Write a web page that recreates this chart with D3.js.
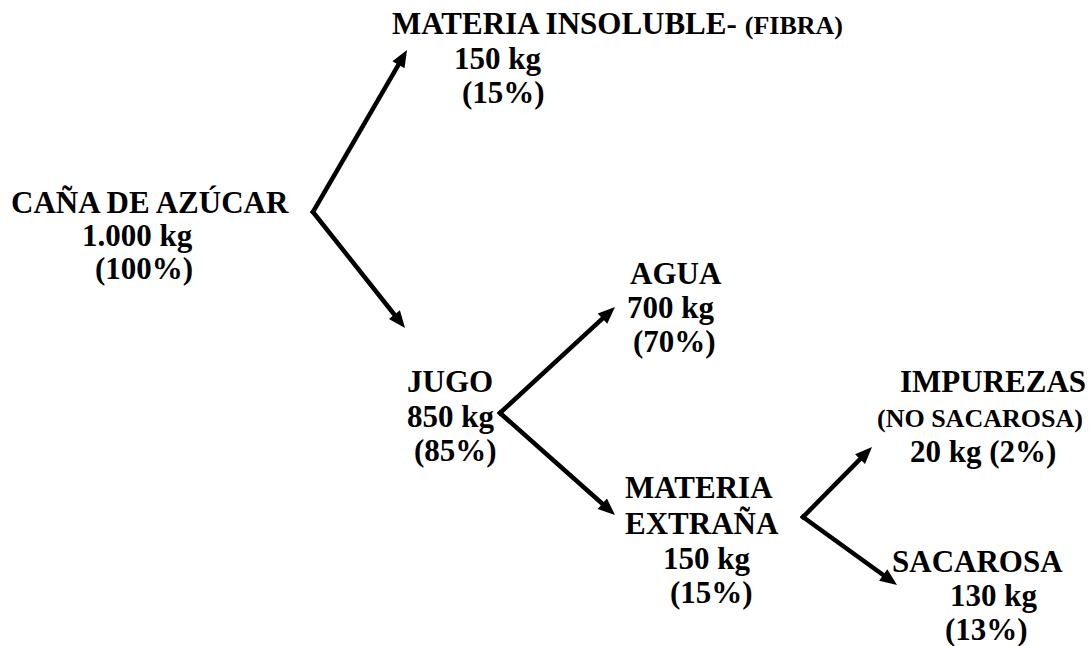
<!DOCTYPE html>
<html>
<head>
<meta charset="utf-8">
<script src="https://cdn.jsdelivr.net/npm/d3@7"></script>
<style>
  body { margin: 0; background: #fff; }
  text { font-family: "Liberation Serif", "Times New Roman", serif; font-weight: bold; fill: #000; }
</style>
</head>
<body>
<div id="container"></div>
<script>
var totalWidth = 1091,
    totalHeight = 646;

// datos del balance
var names   = ["CAÑA DE AZÚCAR", "MATERIA INSOLUBLE-", "JUGO", "AGUA", "MATERIA EXTRAÑA", "IMPUREZAS", "SACAROSA"];
var notes   = ["", "(FIBRA)", "", "", "", "(NO SACAROSA)", ""];
var kg      = [1000, 150, 850, 700, 150, 20, 130];
var pct     = [100, 15, 85, 70, 15, 2, 13];
var parents = [null, 0, 0, 2, 2, 4, 4];

// posicion de cada nodo: lineas de texto [x, y] y punto de bifurcacion / punta de flecha
var layout = [
  { lines: [[11, 213], [82, 246], [95, 279]], fork: [313, 212] },
  { lines: [[392, 34], [454, 69], [462, 103]], tip: [407, 50] },
  { lines: [[407, 392], [407, 427], [414, 461]], tip: [405, 328], fork: [500, 413] },
  { lines: [[630, 284], [627, 318], [633, 352]], tip: [615, 307] },
  { lines: [[625, 498], [625, 534], [663, 569], [670, 603]], tip: [615, 515], fork: [803, 517] },
  { lines: [[900, 392], [877, 427], [910, 462]], tip: [872, 447] },
  { lines: [[892, 572], [950, 606], [945, 640]], tip: [897, 585] }
];

var es = d3.formatLocale({ decimal: ",", thousands: ".", grouping: [3], currency: ["", " €"] });
var fmtKg = es.format(",d");

var svg = d3.select("#container")
            .append("svg")
            .attr("width", totalWidth)
            .attr("height", totalHeight);

// lineas de texto de cada nodo
function nodeLines(i) {
  var kgTxt = fmtKg(kg[i]) + " kg", pctTxt = "(" + pct[i] + "%)";
  if (i === 4) {
    return [{ t: "MATERIA" }, { t: "EXTRAÑA" }, { t: kgTxt }, { t: pctTxt }];
  } else if (i === 1) {
    return [{ t: names[i], note: notes[i] }, { t: kgTxt }, { t: pctTxt }];
  } else if (i === 5) {
    return [{ t: names[i] }, { t: notes[i], small: true }, { t: kgTxt + " " + pctTxt }];
  }
  return [{ t: names[i] }, { t: kgTxt }, { t: pctTxt }];
}

var labels = svg.append("g").attr("class", "labels");
names.forEach(function(n, i) {
  var g = labels.append("g").attr("class", "node");
  nodeLines(i).forEach(function(l, j) {
    var pos = layout[i].lines[j];
    var txt = g.append("text")
               .attr("x", pos[0])
               .attr("y", pos[1])
               .attr("font-size", l.small ? 26 : 31)
               .text(l.t);
    if (l.note) {
      txt.append("tspan").attr("font-size", 26).attr("dx", 8).text(l.note);
    }
  });
});

// flechas
var headLen = 17, headW = 14, lineW = 4.5;
var arrows = svg.append("g").attr("class", "arrows");
parents.forEach(function(p, i) {
  if (p === null) return;
  var a = layout[p].fork, b = layout[i].tip;
  var dx = b[0] - a[0], dy = b[1] - a[1], len = Math.sqrt(dx * dx + dy * dy);
  var ux = dx / len, uy = dy / len;
  var end = [b[0] - ux * (headLen - 2), b[1] - uy * (headLen - 2)];
  arrows.append("path")
        .attr("d", d3.line()([a, end]))
        .attr("stroke", "#000")
        .attr("stroke-width", lineW)
        .attr("stroke-linecap", "square")
        .attr("fill", "none");
  var base = [b[0] - ux * headLen, b[1] - uy * headLen];
  arrows.append("path")
        .attr("d", d3.line()([
          b,
          [base[0] - uy * headW / 2, base[1] + ux * headW / 2],
          [base[0] + uy * headW / 2, base[1] - ux * headW / 2]
        ]) + "Z")
        .attr("fill", "#000");
});
</script>
</body>
</html>
